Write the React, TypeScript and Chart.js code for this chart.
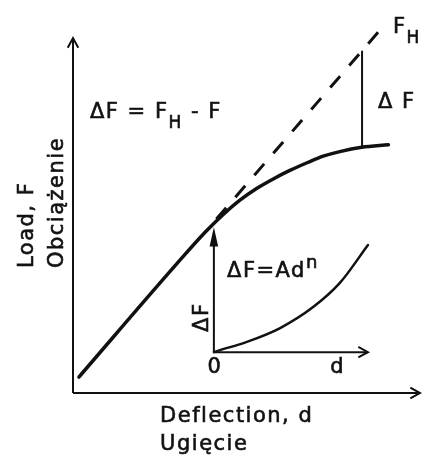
import React, { useEffect, useRef } from "react";
import { Chart, registerables } from "chart.js";

Chart.register(...registerables);

// Main load–deflection curve (deflection d, load F), arbitrary units
const curveD = [1.7, 30.0, 38.0, 43.3, 48.1, 52.9, 57.7, 62.5, 67.8, 72.1, 76.9, 83.2, 90.9];
const curveF = [4.5, 36.5, 45.2, 50.3, 54.3, 57.6, 60.3, 62.7, 65.0, 66.7, 68.0, 69.2, 69.9];

// Extrapolated linear load F_H (dashed)
const fhD = [40.0, 88.0];
const fhF = [47.5, 101.7];

// ΔF marker (vertical line between F and F_H)
const deltaD = [83.3, 83.3];
const deltaF = [69.2, 96.2];

// Main axes
const axisXD = [0, 100];
const axisXF = [0, 0];
const axisYD = [0, 0];
const axisYF = [0, 100];

// Inset: ΔF = A d^n
const insetAxisXD = [40.6, 85.0];
const insetAxisXF = [11.5, 11.5];
const insetAxisYD = [40.6, 40.6];
const insetAxisYF = [11.5, 45.4];
const insetCurveD = [40.6, 41.5, 50.1, 59.7, 69.2, 76.9, 85.0];
const insetCurveF = [11.5, 11.8, 14.4, 18.3, 24.2, 31.0, 41.7];

type Seg = { t: string; sub?: boolean; sup?: boolean };
type Label = { segs: Seg[]; x: number; y: number; rot?: number; align?: CanvasTextAlign; base?: CanvasTextBaseline };

const labels: Label[] = [
  { segs: [{ t: "F" }, { t: "H", sub: true }], x: 92.2, y: 101.4 },
  { segs: [{ t: "Δ F" }], x: 87.9, y: 80.3 },
  { segs: [{ t: "ΔF = F" }, { t: "H", sub: true }, { t: " - F" }], x: 4.9, y: 77.5 },
  { segs: [{ t: "ΔF=Ad" }, { t: "n", sup: true }], x: 44.4, y: 32.7 },
  { segs: [{ t: "ΔF" }], x: 38.9, y: 17.2, rot: -Math.PI / 2 },
  { segs: [{ t: "0" }], x: 40.9, y: 10.1, align: "center", base: "top" },
  { segs: [{ t: "d" }], x: 74.1, y: 5.6 },
  { segs: [{ t: "Deflection, d" }], x: 25.1, y: -8.2 },
  { segs: [{ t: "Ugięcie" }], x: 25.1, y: -16.1 },
  { segs: [{ t: "Load, F" }], x: -11.5, y: 35.2, rot: -Math.PI / 2 },
  { segs: [{ t: "Obciążenie" }], x: -2.9, y: 35.2, rot: -Math.PI / 2 },
];

const pts = (xs: number[], ys: number[]) => xs.map((x, i) => ({ x, y: ys[i] }));

const FONT = '"DejaVu Sans", sans-serif';

const overlay = {
  id: "overlay",
  afterDatasetsDraw(chart: any) {
    const ctx: CanvasRenderingContext2D = chart.ctx;
    const xs = chart.scales.x;
    const ys = chart.scales.y;
    ctx.save();
    // arrowheads
    chart.data.datasets.forEach((ds: any) => {
      if (!ds.arrow) return;
      const d = ds.data;
      const a = d[d.length - 2];
      const b = d[d.length - 1];
      const ax = xs.getPixelForValue(a.x), ay = ys.getPixelForValue(a.y);
      const bx = xs.getPixelForValue(b.x), by = ys.getPixelForValue(b.y);
      const ang = Math.atan2(by - ay, bx - ax);
      const len = ds.arrow === "filled" ? 14 : 11;
      const wid = ds.arrow === "filled" ? 0.22 : 0.5;
      const p1x = bx - len * Math.cos(ang - wid), p1y = by - len * Math.sin(ang - wid);
      const p2x = bx - len * Math.cos(ang + wid), p2y = by - len * Math.sin(ang + wid);
      ctx.strokeStyle = "#111";
      ctx.fillStyle = "#111";
      ctx.lineWidth = 2;
      ctx.lineJoin = "miter";
      ctx.beginPath();
      ctx.moveTo(p1x, p1y);
      ctx.lineTo(bx, by);
      ctx.lineTo(p2x, p2y);
      if (ds.arrow === "filled") {
        ctx.closePath();
        ctx.fill();
      }
      ctx.stroke();
    });
    // labels
    ctx.fillStyle = "#111";
    ctx.strokeStyle = "#111";
    ctx.lineWidth = 0.6;
    labels.forEach((lb) => {
      const px = xs.getPixelForValue(lb.x);
      const py = ys.getPixelForValue(lb.y);
      ctx.save();
      ctx.translate(px, py);
      if (lb.rot) ctx.rotate(lb.rot);
      (ctx as any).letterSpacing = "1.5px";
      ctx.textBaseline = lb.base || "alphabetic";
      let total = 0;
      const sized = lb.segs.map((s) => {
        const size = s.sub ? 17 : s.sup ? 18 : 21;
        ctx.font = `${size}px ${FONT}`;
        const w = ctx.measureText(s.t).width;
        total += w;
        return { ...s, size, w };
      });
      let cx = lb.align === "center" ? -total / 2 : 0;
      ctx.textAlign = "left";
      sized.forEach((s) => {
        ctx.font = `${s.size}px ${FONT}`;
        const dy = s.sub ? 10 : s.sup ? -9 : 0;
        ctx.fillText(s.t, cx, dy);
        ctx.strokeText(s.t, cx, dy);
        cx += s.w;
      });
      ctx.restore();
    });
    ctx.restore();
  },
};

export default function App() {
  const ref = useRef<HTMLCanvasElement>(null);
  useEffect(() => {
    if (!ref.current) return;
    const line = (data: any, width: number, extra: any = {}) => ({
      data,
      showLine: true,
      borderColor: "#111",
      backgroundColor: "#111",
      borderWidth: width,
      pointRadius: 0,
      pointHoverRadius: 0,
      clip: false,
      borderCapStyle: "round",
      ...extra,
    });
    const chart = new Chart(ref.current, {
      type: "scatter",
      data: {
        datasets: [
          line(pts(axisXD, axisXF), 2, { arrow: "open", borderCapStyle: "butt" }),
          line(pts(axisYD, axisYF), 2, { arrow: "open", borderCapStyle: "butt" }),
          line(pts(fhD, fhF), 3, { borderDash: [15, 14], borderDashOffset: 22, borderCapStyle: "butt" }),
          line(pts(deltaD, deltaF), 2),
          line(pts(curveD, curveF), 3.5, { cubicInterpolationMode: "monotone" }),
          line(pts(insetAxisXD, insetAxisXF), 2, { arrow: "open", borderCapStyle: "butt" }),
          line(pts(insetAxisYD, insetAxisYF), 2, { arrow: "filled", borderCapStyle: "butt" }),
          line(pts(insetCurveD, insetCurveF), 2.5, { cubicInterpolationMode: "monotone" }),
        ] as any,
      },
      options: {
        animation: false,
        responsive: false,
        events: [],
        layout: { padding: { left: 73, right: 2, top: 38, bottom: 64 } },
        plugins: { legend: { display: false }, tooltip: { enabled: false } },
        scales: {
          x: { type: "linear", min: 0, max: 100, display: false },
          y: { type: "linear", min: 0, max: 100, display: false },
        },
      },
      plugins: [overlay],
    });
    return () => chart.destroy();
  }, []);
  return (
    <div style={{ position: "absolute", left: 0, top: 0, width: 422, height: 457, background: "#fff" }}>
      <canvas ref={ref} width={422} height={457} style={{ display: "block" }} />
    </div>
  );
}
